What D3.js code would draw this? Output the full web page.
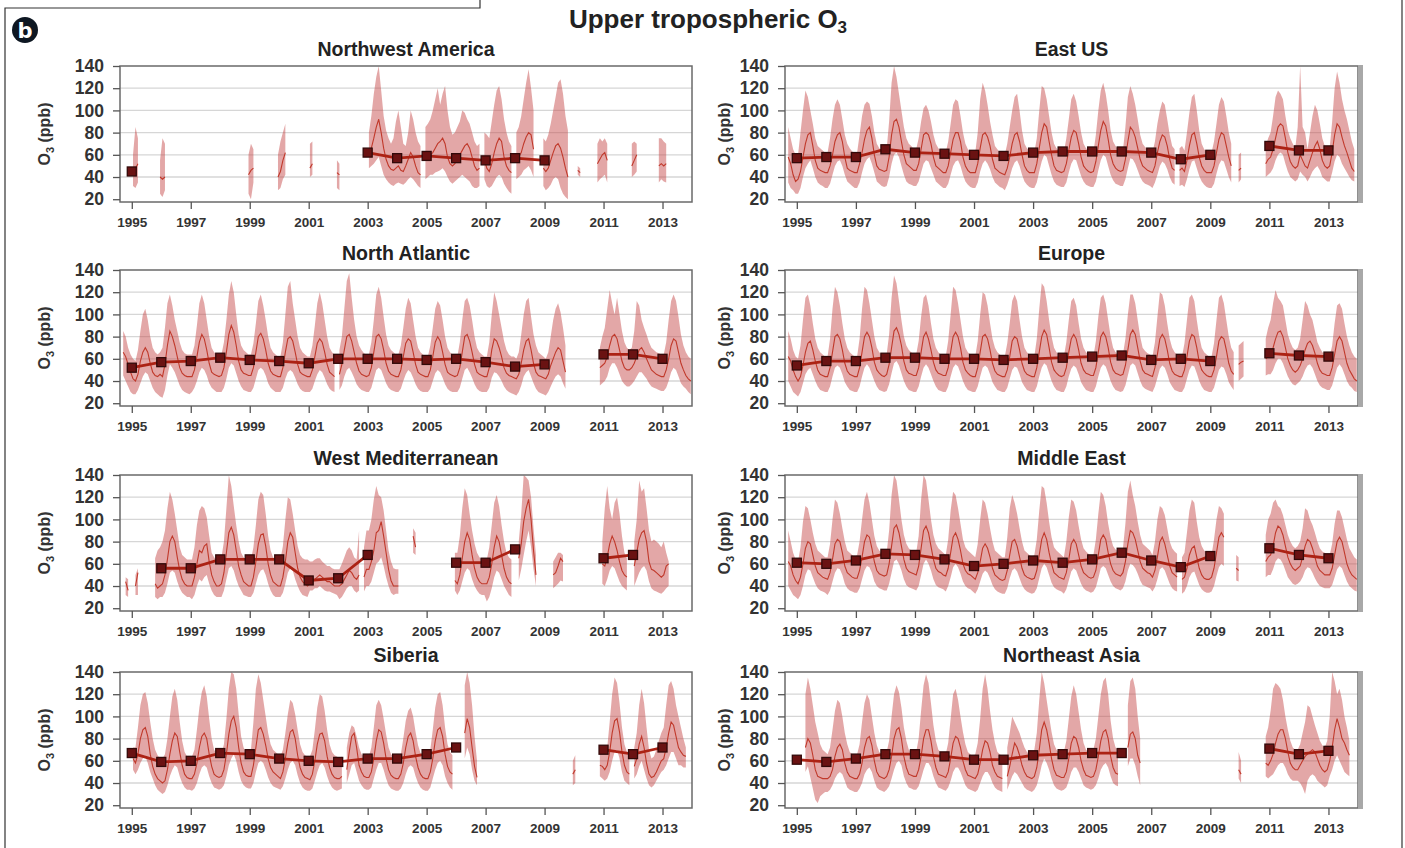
<!DOCTYPE html>
<html>
<head>
<meta charset="utf-8">
<title>Upper tropospheric O3</title>
<script src="https://cdn.jsdelivr.net/npm/d3@7"></script>
<style>
  body { margin: 0; background: #fff; }
  svg text { font-family: "Liberation Sans", Arial, sans-serif; }
</style>
</head>
<body>
<div id="wrapper"></div>
<script>
var _ = null;

// monthly series, one row per year, Jan 1994 .. Dec 2013
var firstYear = 1994;
var annualYears = [1995,1996,1997,1998,1999,2000,2001,2002,2003,2004,2005,2006,2007,2008,2009,2010,2011,2012,2013];
var tickYears = [1995,1997,1999,2001,2003,2005,2007,2009,2011,2013];
var yTicks = [20,40,60,80,100,120,140];

// ---- Northwest America
var nwMean = [
/*1994*/ _,_,_,_,_,_,_,_,_,_,_,_,
/*1995*/ 42,48,52,_,_,_,_,_,_,_,_,40,
/*1996*/ 38,40,_,_,_,_,_,_,_,_,_,_,
/*1997*/ _,_,_,_,_,_,_,_,_,_,_,_,
/*1998*/ _,_,_,_,_,_,_,_,_,_,_,42,
/*1999*/ 46,48,_,_,_,_,_,_,_,_,_,40,
/*2000*/ 45,55,62,_,_,_,_,_,_,_,_,_,
/*2001*/ 48,52,_,_,_,_,_,_,_,_,_,44,
/*2002*/ 42,_,_,_,_,_,_,_,_,_,_,_,
/*2003*/ 62,66,75,85,92,80,66,56,50,47,46,48,
/*2004*/ 50,46,45,50,56,62,58,50,44,42,_,55,
/*2005*/ 56,60,62,66,70,72,75,70,58,52,50,52,
/*2006*/ 56,60,64,68,70,66,58,50,46,48,_,56,
/*2007*/ 48,45,52,62,70,75,72,58,50,46,44,_,
/*2008*/ 55,58,62,70,76,80,78,65,_,_,_,48,
/*2009*/ 45,48,55,62,68,70,66,58,48,40,_,_,
/*2010*/ _,46,44,_,_,_,_,_,_,52,56,60,
/*2011*/ 62,55,_,_,_,_,_,_,_,_,_,50,
/*2012*/ 55,60,_,_,_,_,_,_,_,_,50,52,
/*2013*/ 50,52,_,_,_,_,_,_,_,_,_,_
];
var nwLo = [
/*1994*/ _,_,_,_,_,_,_,_,_,_,_,_,
/*1995*/ 32,30,35,_,_,_,_,_,_,_,_,25,
/*1996*/ 22,28,_,_,_,_,_,_,_,_,_,_,
/*1997*/ _,_,_,_,_,_,_,_,_,_,_,_,
/*1998*/ _,_,_,_,_,_,_,_,_,_,_,25,
/*1999*/ 20,35,_,_,_,_,_,_,_,_,_,28,
/*2000*/ 30,38,42,_,_,_,_,_,_,_,_,_,
/*2001*/ 40,42,_,_,_,_,_,_,_,_,_,30,
/*2002*/ 28,_,_,_,_,_,_,_,_,_,_,_,
/*2003*/ 48,50,52,55,58,50,42,38,35,33,32,34,
/*2004*/ 35,34,33,35,38,40,38,35,32,30,_,38,
/*2005*/ 40,42,42,44,45,46,48,45,40,36,34,36,
/*2006*/ 38,40,42,40,38,36,32,30,30,32,_,38,
/*2007*/ 32,30,32,36,40,42,40,34,30,27,25,_,
/*2008*/ 38,40,42,46,48,50,46,40,_,_,_,32,
/*2009*/ 28,30,33,38,40,38,30,25,22,20,_,_,
/*2010*/ _,42,40,_,_,_,_,_,_,35,38,40,
/*2011*/ 42,35,_,_,_,_,_,_,_,_,_,40,
/*2012*/ 42,45,_,_,_,_,_,_,_,_,35,38,
/*2013*/ 36,35,_,_,_,_,_,_,_,_,_,_
];
var nwHi = [
/*1994*/ _,_,_,_,_,_,_,_,_,_,_,_,
/*1995*/ 60,85,75,_,_,_,_,_,_,_,_,55,
/*1996*/ 75,70,_,_,_,_,_,_,_,_,_,_,
/*1997*/ _,_,_,_,_,_,_,_,_,_,_,_,
/*1998*/ _,_,_,_,_,_,_,_,_,_,_,60,
/*1999*/ 70,65,_,_,_,_,_,_,_,_,_,60,
/*2000*/ 72,80,88,_,_,_,_,_,_,_,_,_,
/*2001*/ 70,72,_,_,_,_,_,_,_,_,_,55,
/*2002*/ 52,_,_,_,_,_,_,_,_,_,_,_,
/*2003*/ 80,95,115,130,140,118,95,82,75,70,75,90,
/*2004*/ 100,85,70,68,80,100,92,80,72,68,_,85,
/*2005*/ 88,92,100,110,120,105,115,122,100,85,78,80,
/*2006*/ 85,90,100,98,92,88,80,72,68,70,_,80,
/*2007*/ 78,75,90,105,118,122,110,92,80,72,68,_,
/*2008*/ 80,85,95,110,125,137,120,100,_,_,_,75,
/*2009*/ 72,78,88,100,112,125,128,115,95,82,_,_,
/*2010*/ _,50,48,_,_,_,_,_,_,70,75,72,
/*2011*/ 75,70,_,_,_,_,_,_,_,_,_,70,
/*2012*/ 72,70,_,_,_,_,_,_,_,_,75,75,
/*2013*/ 72,70,_,_,_,_,_,_,_,_,_,_
];
var nwAnnual = [45,_,_,_,_,_,_,_,62,57,59,57,55,57,55,_,_,_,_];

// ---- East US
var euMean = [
/*1994*/ _,_,_,_,_,_,_,_,58,52,42,36,
/*1995*/ 38,45,58,70,78,80,68,55,48,46,45,44,
/*1996*/ 44,50,60,72,78,80,72,58,48,46,45,44,
/*1997*/ 44,52,62,74,82,85,75,60,50,47,46,45,
/*1998*/ 46,58,78,90,92,85,72,60,52,50,48,46,
/*1999*/ 46,52,65,78,80,78,70,58,50,48,46,44,
/*2000*/ 44,50,62,74,80,80,72,58,50,46,44,44,
/*2001*/ 44,52,66,78,80,76,68,56,48,46,44,43,
/*2002*/ 42,48,58,70,78,80,72,60,50,46,44,44,
/*2003*/ 44,52,66,80,88,85,72,60,50,46,45,44,
/*2004*/ 45,52,64,76,82,80,70,58,50,47,45,44,
/*2005*/ 45,54,68,82,90,86,74,60,52,48,46,45,
/*2006*/ 46,56,72,85,82,76,66,56,50,48,46,45,
/*2007*/ 44,50,62,72,78,76,68,56,48,46,_,46,
/*2008*/ 48,45,55,68,78,80,70,58,50,46,44,44,
/*2009*/ 44,50,62,74,80,78,68,58,50,_,_,46,
/*2010*/ 48,_,_,_,_,_,_,_,_,_,52,56,
/*2011*/ 58,65,75,85,88,86,75,62,54,50,48,50,
/*2012*/ 60,55,50,48,55,62,68,72,65,55,50,48,
/*2013*/ 50,62,78,88,85,76,68,62,55,48,45,_
];
var euLo = [
/*1994*/ _,_,_,_,_,_,_,_,35,30,28,25,
/*1995*/ 25,30,40,48,52,55,48,40,35,33,32,30,
/*1996*/ 30,34,42,50,54,55,50,42,36,34,32,30,
/*1997*/ 30,35,44,52,56,58,52,44,36,34,32,31,
/*1998*/ 32,40,52,60,62,58,50,42,36,34,33,32,
/*1999*/ 32,36,44,52,55,54,48,42,36,34,32,30,
/*2000*/ 30,34,42,50,54,55,50,42,36,33,31,30,
/*2001*/ 30,35,45,52,55,52,47,40,35,33,31,30,
/*2002*/ 28,33,40,48,53,55,50,42,36,33,31,30,
/*2003*/ 30,35,45,54,60,58,50,42,36,33,32,31,
/*2004*/ 31,35,44,52,56,55,48,41,36,33,32,31,
/*2005*/ 31,36,46,55,60,58,50,42,37,34,33,32,
/*2006*/ 32,38,48,57,56,52,46,40,36,34,33,32,
/*2007*/ 30,35,42,50,54,52,47,40,35,33,_,32,
/*2008*/ 33,31,38,47,54,55,48,41,36,33,31,30,
/*2009*/ 30,34,43,51,55,54,47,40,35,_,_,35,
/*2010*/ 38,_,_,_,_,_,_,_,_,_,40,42,
/*2011*/ 44,48,55,60,62,60,52,45,40,38,36,38,
/*2012*/ 45,42,40,36,40,45,48,50,46,40,38,36,
/*2013*/ 36,44,54,60,58,52,48,44,40,37,36,_
];
var euHi = [
/*1994*/ _,_,_,_,_,_,_,_,85,75,65,60,
/*1995*/ 60,80,100,118,112,100,88,75,68,66,64,62,
/*1996*/ 62,75,92,105,110,105,92,78,70,66,63,62,
/*1997*/ 62,78,95,105,108,106,95,80,70,66,64,62,
/*1998*/ 65,90,125,140,130,115,100,85,75,70,68,65,
/*1999*/ 65,75,90,102,105,100,90,78,70,66,64,62,
/*2000*/ 62,72,88,105,110,108,95,80,70,65,62,62,
/*2001*/ 62,80,110,125,118,105,90,78,68,65,62,60,
/*2002*/ 60,70,85,100,112,115,100,82,70,66,63,62,
/*2003*/ 62,75,100,122,120,110,95,80,70,66,64,62,
/*2004*/ 62,75,92,110,115,108,95,80,70,66,64,62,
/*2005*/ 62,78,100,118,125,115,100,82,72,68,65,63,
/*2006*/ 64,85,112,122,115,105,92,78,70,67,65,64,
/*2007*/ 62,72,88,100,108,105,92,78,68,65,_,66,
/*2008*/ 68,64,80,98,112,115,100,82,70,65,63,62,
/*2009*/ 62,72,88,105,112,108,95,80,70,_,_,60,
/*2010*/ 62,_,_,_,_,_,_,_,_,_,68,75,
/*2011*/ 80,95,112,118,115,110,95,82,75,70,66,85,
/*2012*/ 140,85,80,65,80,95,105,100,88,75,68,66,
/*2013*/ 66,90,120,135,125,110,100,92,82,72,65,_
];
var euAnnual = [57,58,58,65,62,61,60,59,62,63,63,63,62,56,60,_,68,64,64];

// ---- North Atlantic
var naMean = [
/*1994*/ _,_,_,_,_,_,_,_,66,62,55,48,
/*1995*/ 42,40,46,58,66,70,66,56,48,45,44,46,
/*1996*/ 44,55,72,85,80,72,62,52,47,45,44,44,
/*1997*/ 44,50,62,75,82,78,68,56,48,46,45,44,
/*1998*/ 45,52,66,82,90,84,72,58,50,47,46,45,
/*1999*/ 45,52,66,80,83,78,68,56,49,46,45,44,
/*2000*/ 44,52,66,78,80,76,66,55,48,46,45,44,
/*2001*/ 44,50,62,74,78,75,66,55,48,46,44,_,
/*2002*/ 46,55,68,80,82,76,66,56,49,46,45,44,
/*2003*/ 45,52,66,80,82,78,68,56,49,46,45,44,
/*2004*/ 44,50,62,74,78,76,66,55,48,46,45,44,
/*2005*/ 44,50,62,75,80,76,66,55,48,46,45,44,
/*2006*/ 45,52,66,80,82,76,66,55,48,46,45,44,
/*2007*/ 44,52,68,78,76,70,62,52,47,45,44,43,
/*2008*/ 42,46,56,68,76,78,68,56,48,45,44,43,
/*2009*/ 42,46,54,60,66,70,68,58,48,_,_,_,
/*2010*/ _,_,_,_,_,_,_,_,_,_,52,54,
/*2011*/ 56,62,72,80,82,78,68,58,52,50,50,52,
/*2012*/ 56,62,68,70,66,60,55,50,48,46,45,44,
/*2013*/ 44,50,60,72,78,76,66,56,50,45,42,40
];
var naLo = [
/*1994*/ _,_,_,_,_,_,_,_,45,40,35,30,
/*1995*/ 28,28,32,38,44,48,46,40,34,30,28,26,
/*1996*/ 25,32,45,55,52,48,42,36,32,30,29,28,
/*1997*/ 30,34,40,48,52,50,45,38,34,32,30,30,
/*1998*/ 30,34,42,52,56,54,47,40,35,32,31,30,
/*1999*/ 30,34,42,50,52,50,45,38,34,32,30,30,
/*2000*/ 30,34,42,48,50,48,43,37,33,31,30,30,
/*2001*/ 30,33,40,46,50,48,43,37,33,31,30,_,
/*2002*/ 32,36,44,50,52,48,43,37,34,32,31,30,
/*2003*/ 30,34,42,50,52,50,44,38,34,32,31,30,
/*2004*/ 30,33,40,46,50,48,43,37,33,31,30,30,
/*2005*/ 30,33,40,47,50,48,43,37,33,31,30,30,
/*2006*/ 30,34,42,50,52,48,43,37,33,31,30,30,
/*2007*/ 30,34,43,48,47,44,40,35,32,30,29,28,
/*2008*/ 27,30,36,44,48,50,44,38,33,30,29,28,
/*2009*/ 27,30,35,40,44,46,44,38,33,_,_,_,
/*2010*/ _,_,_,_,_,_,_,_,_,_,36,38,
/*2011*/ 40,44,52,56,56,52,46,40,37,35,35,37,
/*2012*/ 40,44,48,48,45,42,38,35,34,33,32,31,
/*2013*/ 31,34,40,48,52,50,44,38,35,33,30,28
];
var naHi = [
/*1994*/ _,_,_,_,_,_,_,_,85,80,70,64,
/*1995*/ 60,58,68,85,100,105,95,80,70,66,64,66,
/*1996*/ 70,88,110,118,108,95,85,75,68,65,64,64,
/*1997*/ 64,72,90,110,118,110,95,80,70,66,64,62,
/*1998*/ 64,75,95,118,130,120,100,82,72,68,66,64,
/*1999*/ 64,74,92,112,118,108,95,80,70,66,64,62,
/*2000*/ 62,75,100,125,130,110,95,80,70,66,64,62,
/*2001*/ 62,72,90,110,120,110,95,80,70,66,64,_,
/*2002*/ 68,80,105,130,137,115,95,80,72,68,65,64,
/*2003*/ 64,75,95,118,125,115,98,82,72,68,66,64,
/*2004*/ 64,72,88,105,115,110,95,80,70,66,64,62,
/*2005*/ 62,72,88,105,112,108,95,80,70,66,64,62,
/*2006*/ 62,75,95,112,115,108,95,80,70,66,64,62,
/*2007*/ 62,75,100,120,112,100,88,76,68,64,62,62,
/*2008*/ 60,66,82,100,112,115,98,82,72,66,64,62,
/*2009*/ 60,66,80,95,105,110,102,88,72,_,_,_,
/*2010*/ _,_,_,_,_,_,_,_,_,_,70,80,
/*2011*/ 88,105,122,110,100,115,100,85,75,70,68,70,
/*2012*/ 85,112,108,95,88,82,75,70,68,66,65,64,
/*2013*/ 64,75,95,112,118,112,98,82,72,66,62,60
];
var naAnnual = [52,57,58,61,59,58,56,60,60,60,59,60,57,53,55,_,64,64,60];

// ---- Europe
var eoMean = [
/*1994*/ _,_,_,_,_,_,_,_,62,58,50,44,
/*1995*/ 40,44,54,66,74,76,68,58,50,46,45,44,
/*1996*/ 44,52,66,80,82,78,68,56,49,46,45,44,
/*1997*/ 44,52,66,80,84,80,70,57,50,47,45,44,
/*1998*/ 46,55,70,85,88,82,72,58,50,47,46,45,
/*1999*/ 45,52,66,80,84,78,68,57,50,47,46,45,
/*2000*/ 45,52,66,80,84,80,70,57,50,47,45,44,
/*2001*/ 44,52,66,80,82,78,68,56,49,46,45,44,
/*2002*/ 44,50,62,76,80,78,68,56,49,46,45,44,
/*2003*/ 44,52,66,80,86,82,70,57,50,47,45,44,
/*2004*/ 45,52,66,78,82,78,68,56,50,47,46,45,
/*2005*/ 45,52,66,80,84,80,70,57,50,47,46,45,
/*2006*/ 46,54,68,82,86,82,70,58,50,47,46,45,
/*2007*/ 44,52,64,78,82,78,68,56,49,46,45,44,
/*2008*/ 44,50,62,76,82,80,70,57,50,47,45,44,
/*2009*/ 44,50,62,76,80,78,68,56,49,46,_,55,
/*2010*/ 57,58,_,_,_,_,_,_,_,_,60,62,
/*2011*/ 64,70,78,84,85,80,70,60,54,50,48,50,
/*2012*/ 54,60,68,74,76,72,65,56,50,47,46,45,
/*2013*/ 45,52,64,76,80,76,66,56,50,46,42,40
];
var eoLo = [
/*1994*/ _,_,_,_,_,_,_,_,40,35,30,28,
/*1995*/ 26,30,38,46,50,52,46,40,35,32,31,30,
/*1996*/ 30,35,44,52,54,52,46,39,35,32,31,30,
/*1997*/ 30,35,44,52,55,52,46,40,35,32,31,30,
/*1998*/ 31,37,47,56,58,54,47,40,35,32,31,30,
/*1999*/ 30,35,44,52,55,52,46,40,35,32,31,30,
/*2000*/ 30,35,44,52,55,53,47,40,35,32,31,30,
/*2001*/ 30,35,44,52,54,52,46,39,35,32,31,30,
/*2002*/ 30,34,42,50,53,52,46,39,35,32,31,30,
/*2003*/ 30,35,44,52,56,54,47,40,35,32,31,30,
/*2004*/ 30,35,44,51,54,52,46,39,35,32,31,30,
/*2005*/ 30,35,44,52,55,53,47,40,35,32,31,30,
/*2006*/ 31,36,45,54,56,54,47,40,35,33,32,31,
/*2007*/ 30,35,43,51,54,52,46,39,35,32,31,30,
/*2008*/ 30,34,42,50,54,53,47,40,35,32,31,30,
/*2009*/ 30,34,42,50,53,52,46,39,35,32,_,40,
/*2010*/ 42,44,_,_,_,_,_,_,_,_,45,46,
/*2011*/ 46,50,56,60,60,56,50,44,40,37,36,38,
/*2012*/ 40,44,50,54,55,52,46,40,36,34,33,32,
/*2013*/ 32,36,44,52,55,52,46,40,36,34,31,30
];
var eoHi = [
/*1994*/ _,_,_,_,_,_,_,_,85,78,68,62,
/*1995*/ 60,72,95,115,118,108,92,78,70,66,64,62,
/*1996*/ 62,78,105,125,120,108,92,78,70,66,64,62,
/*1997*/ 62,78,105,125,122,110,95,80,70,66,64,62,
/*1998*/ 64,82,115,135,128,112,95,80,72,68,66,64,
/*1999*/ 64,76,98,115,118,108,92,78,70,66,64,62,
/*2000*/ 62,76,100,125,122,110,95,80,70,66,64,62,
/*2001*/ 62,76,100,120,118,108,92,78,70,66,64,62,
/*2002*/ 62,74,92,112,118,112,95,80,70,66,64,62,
/*2003*/ 62,78,105,128,125,112,95,80,70,66,64,62,
/*2004*/ 62,75,95,112,115,108,92,78,70,66,64,62,
/*2005*/ 62,76,98,115,118,110,95,80,70,66,64,62,
/*2006*/ 64,78,100,118,118,110,95,80,70,67,65,64,
/*2007*/ 62,75,98,120,118,108,92,78,70,66,64,62,
/*2008*/ 62,74,95,115,118,112,95,80,70,66,64,62,
/*2009*/ 62,74,95,115,118,110,95,80,70,66,_,72,
/*2010*/ 74,76,_,_,_,_,_,_,_,_,78,88,
/*2011*/ 95,110,122,115,112,108,95,82,75,70,68,70,
/*2012*/ 78,95,112,108,100,95,85,75,70,66,64,62,
/*2013*/ 62,72,92,108,110,105,92,80,72,66,62,60
];
var eoAnnual = [54,58,58,61,61,60,60,59,60,61,62,63,59,60,58,_,65,63,62];

// ---- West Mediterranean
var wmMean = [
/*1994*/ _,_,_,_,_,_,_,_,_,44,36,_,
/*1995*/ _,40,52,_,_,_,_,_,_,42,38,40,
/*1996*/ 42,50,64,80,85,80,66,54,46,42,40,40,
/*1997*/ 40,48,60,72,70,76,78,62,50,44,40,40,
/*1998*/ 42,52,70,88,93,86,72,58,50,44,42,40,
/*1999*/ 40,48,62,78,86,87,76,60,50,44,42,40,
/*2000*/ 40,48,62,80,88,84,70,56,48,44,42,40,
/*2001*/ 42,44,46,48,50,48,46,44,44,42,40,40,
/*2002*/ 40,42,46,50,54,52,48,46,50,_,48,55,
/*2003*/ 55,62,72,88,90,98,85,70,55,45,40,40,
/*2004*/ 40,_,_,_,_,_,85,75,_,_,_,_,
/*2005*/ _,_,_,_,_,_,_,_,_,_,_,45,
/*2006*/ 42,50,65,80,88,82,68,56,48,44,42,42,
/*2007*/ 42,48,60,75,85,80,68,56,48,44,42,_,
/*2008*/ _,65,78,98,110,118,100,72,50,_,_,_,
/*2009*/ _,_,_,50,52,58,65,62,_,_,_,_,
/*2010*/ _,_,_,_,_,_,_,_,_,_,_,60,
/*2011*/ 58,66,78,85,80,72,62,54,50,48,_,_,
/*2012*/ 58,70,82,88,90,80,62,55,54,52,50,48,
/*2013*/ 50,58,60,_,_,_,_,_,_,_,_,_
];
var wmLo = [
/*1994*/ _,_,_,_,_,_,_,_,_,32,30,_,
/*1995*/ _,32,32,_,_,_,_,_,_,30,28,30,
/*1996*/ 30,34,42,52,54,52,44,38,34,32,30,30,
/*1997*/ 28,32,40,46,44,48,50,42,36,32,30,30,
/*1998*/ 30,36,46,56,58,54,46,40,36,32,31,30,
/*1999*/ 30,34,42,50,54,55,50,42,36,32,30,30,
/*2000*/ 30,34,42,52,56,54,46,40,35,32,31,30,
/*2001*/ 36,36,38,38,40,38,36,35,35,34,33,32,
/*2002*/ 28,30,34,38,40,40,36,34,36,_,35,40,
/*2003*/ 40,44,52,60,62,66,58,48,40,34,32,33,
/*2004*/ 33,_,_,_,_,_,70,68,_,_,_,_,
/*2005*/ _,_,_,_,_,_,_,_,_,_,_,36,
/*2006*/ 32,36,44,52,56,54,46,40,36,33,32,32,
/*2007*/ 26,30,38,48,54,52,46,40,36,32,30,_,
/*2008*/ _,45,55,68,80,90,75,55,40,_,_,_,
/*2009*/ _,_,_,38,40,42,45,44,_,_,_,_,
/*2010*/ _,_,_,_,_,_,_,_,_,_,_,42,
/*2011*/ 40,46,54,58,56,50,44,40,38,36,_,_,
/*2012*/ 40,46,52,56,58,54,44,38,36,35,34,33,
/*2013*/ 35,38,40,_,_,_,_,_,_,_,_,_
];
var wmHi = [
/*1994*/ _,_,_,_,_,_,_,_,_,48,46,_,
/*1995*/ _,50,56,_,_,_,_,_,_,65,72,75,
/*1996*/ 80,90,110,125,118,105,90,75,68,66,64,64,
/*1997*/ 64,75,95,108,112,110,102,85,70,66,64,64,
/*1998*/ 66,80,110,140,130,112,95,80,70,66,64,64,
/*1999*/ 64,75,95,118,125,122,105,85,72,66,64,64,
/*2000*/ 64,76,100,120,118,105,90,76,68,65,64,64,
/*2001*/ 62,62,64,65,65,62,60,58,58,56,55,55,
/*2002*/ 55,60,66,72,75,72,66,64,90,_,75,90,
/*2003*/ 90,100,118,130,122,120,108,90,72,62,56,55,
/*2004*/ 55,_,_,_,_,_,92,88,_,_,_,_,
/*2005*/ _,_,_,_,_,_,_,_,_,_,_,70,
/*2006*/ 70,85,110,128,122,105,90,78,70,66,64,64,
/*2007*/ 64,75,95,115,122,112,95,80,70,66,64,_,
/*2008*/ _,80,105,140,138,135,120,92,68,_,_,_,
/*2009*/ _,_,_,62,66,70,70,68,_,_,_,_,
/*2010*/ _,_,_,_,_,_,_,_,_,_,_,80,
/*2011*/ 110,130,110,100,115,120,105,85,70,65,_,_,
/*2012*/ 80,100,135,125,128,110,90,80,82,80,78,75,
/*2013*/ 80,70,62,_,_,_,_,_,_,_,_,_
];
var wmAnnual = [_,56,56,64,64,64,45,47,68,_,_,61,61,73,_,_,65,68,_];

// ---- Middle East
var meMean = [
/*1994*/ _,_,_,_,_,_,_,_,62,58,50,45,
/*1995*/ 42,48,60,74,80,78,68,58,52,50,48,47,
/*1996*/ 46,52,64,78,82,80,70,58,52,50,48,47,
/*1997*/ 47,54,66,80,86,84,74,62,54,51,50,49,
/*1998*/ 50,60,76,92,95,88,76,64,56,53,52,51,
/*1999*/ 50,58,74,90,94,88,76,64,56,53,52,50,
/*2000*/ 49,56,70,84,88,82,72,60,54,51,50,48,
/*2001*/ 46,52,62,74,78,74,66,56,50,48,46,45,
/*2002*/ 46,54,68,80,82,76,66,56,50,48,47,46,
/*2003*/ 47,54,68,82,88,82,70,60,52,50,48,47,
/*2004*/ 46,52,64,78,82,78,68,58,52,50,48,47,
/*2005*/ 48,54,68,82,86,82,70,60,54,51,50,49,
/*2006*/ 52,62,78,90,88,82,72,62,56,54,52,51,
/*2007*/ 48,54,66,80,84,78,68,58,52,50,48,_,
/*2008*/ 46,48,56,68,74,76,66,56,50,47,46,46,
/*2009*/ 48,56,70,84,88,84,_,_,_,_,56,54,
/*2010*/ _,_,_,_,_,_,_,_,_,_,62,66,
/*2011*/ 68,76,88,94,92,86,76,66,60,56,54,56,
/*2012*/ 58,66,76,82,80,74,66,58,54,52,50,50,
/*2013*/ 50,56,68,80,84,80,70,60,54,50,48,46
];
var meLo = [
/*1994*/ _,_,_,_,_,_,_,_,40,36,32,30,
/*1995*/ 28,32,40,50,55,54,48,42,38,36,35,34,
/*1996*/ 32,36,44,52,56,55,50,42,38,36,35,34,
/*1997*/ 34,38,46,54,58,57,52,44,40,38,37,36,
/*1998*/ 36,42,52,62,64,60,54,46,41,39,38,37,
/*1999*/ 36,40,50,60,64,60,54,46,41,39,38,37,
/*2000*/ 35,40,48,57,60,57,51,44,40,38,37,35,
/*2001*/ 33,37,44,51,54,52,47,41,37,35,34,33,
/*2002*/ 33,38,47,54,56,53,47,41,37,35,34,33,
/*2003*/ 34,38,47,56,60,57,50,43,39,37,36,35,
/*2004*/ 33,37,45,53,56,54,48,42,38,36,35,34,
/*2005*/ 35,39,47,56,58,56,50,44,40,38,37,36,
/*2006*/ 38,44,54,60,59,56,51,45,41,40,39,38,
/*2007*/ 35,39,46,55,57,54,48,42,38,36,35,_,
/*2008*/ 33,35,40,48,52,53,47,41,37,35,34,34,
/*2009*/ 35,40,49,57,60,58,_,_,_,_,45,44,
/*2010*/ _,_,_,_,_,_,_,_,_,_,48,50,
/*2011*/ 50,55,62,65,64,60,54,48,45,42,41,42,
/*2012*/ 44,48,54,57,56,52,47,43,40,39,38,38,
/*2013*/ 38,41,48,55,58,56,50,44,40,38,36,35
];
var meHi = [
/*1994*/ _,_,_,_,_,_,_,_,90,80,70,64,
/*1995*/ 62,75,98,112,110,100,88,78,72,70,68,66,
/*1996*/ 66,78,100,118,115,105,92,80,72,70,68,66,
/*1997*/ 68,80,100,118,125,115,100,85,76,72,70,68,
/*1998*/ 70,90,122,140,135,118,100,86,78,74,72,70,
/*1999*/ 70,85,118,140,135,118,100,86,78,74,72,70,
/*2000*/ 68,82,108,125,122,110,96,82,75,72,70,68,
/*2001*/ 66,78,100,118,115,105,92,80,72,70,68,66,
/*2002*/ 66,84,110,122,115,105,92,80,72,70,68,66,
/*2003*/ 68,82,108,130,128,115,98,84,75,72,70,68,
/*2004*/ 66,80,102,118,116,108,94,82,74,71,69,67,
/*2005*/ 68,82,105,125,122,112,96,84,76,73,71,70,
/*2006*/ 74,96,125,135,122,112,98,86,78,76,74,72,
/*2007*/ 68,80,100,112,110,104,92,80,74,71,69,_,
/*2008*/ 66,70,88,108,118,115,98,84,76,72,70,68,
/*2009*/ 68,82,100,112,110,105,_,_,_,_,68,66,
/*2010*/ _,_,_,_,_,_,_,_,_,_,86,100,
/*2011*/ 105,115,118,112,110,104,95,86,80,76,74,76,
/*2012*/ 80,92,110,108,100,95,88,80,74,71,70,68,
/*2013*/ 68,78,96,108,108,102,92,82,74,70,66,64
];
var meAnnual = [61,60,63,69,68,64,58,60,63,61,64,70,63,57,67,_,74,68,65];

// ---- Siberia
var siMean = [
/*1994*/ _,_,_,_,_,_,_,_,_,_,_,_,
/*1995*/ 62,58,66,80,88,90,82,66,55,48,44,42,
/*1996*/ 40,42,52,66,78,85,82,68,56,48,45,44,
/*1997*/ 44,48,58,72,82,85,80,66,55,48,46,45,
/*1998*/ 46,52,66,84,96,100,90,72,58,50,47,46,
/*1999*/ 46,56,72,88,90,84,74,62,54,50,48,46,
/*2000*/ 44,50,62,76,86,88,80,65,54,48,45,44,
/*2001*/ 43,48,60,75,84,85,78,64,54,48,45,44,
/*2002*/ 44,46,_,52,68,82,85,72,56,50,46,45,
/*2003*/ 45,50,62,78,88,86,76,62,52,47,45,44,
/*2004*/ 44,48,58,72,82,85,78,64,54,48,45,44,
/*2005*/ 44,50,62,78,88,90,82,66,55,50,48,_,
/*2006*/ _,_,_,85,98,90,72,55,45,_,_,_,
/*2007*/ _,_,_,_,_,_,_,_,_,_,_,_,
/*2008*/ _,_,_,_,_,_,_,_,_,_,_,_,
/*2009*/ _,_,_,_,_,_,_,_,_,_,_,48,
/*2010*/ 52,_,_,_,_,_,_,_,_,_,56,55,
/*2011*/ 52,56,68,85,96,98,86,68,56,50,48,_,
/*2012*/ 55,62,75,82,72,58,48,45,46,50,55,60,
/*2013*/ 62,72,85,95,92,82,72,68,65,64,_,_
];
var siLo = [
/*1994*/ _,_,_,_,_,_,_,_,_,_,_,_,
/*1995*/ 52,48,52,58,62,64,58,50,44,38,34,32,
/*1996*/ 30,32,38,46,52,56,54,46,40,36,34,34,
/*1997*/ 33,35,40,48,54,56,54,46,40,36,35,34,
/*1998*/ 35,38,46,56,62,66,60,50,42,38,36,35,
/*1999*/ 35,40,50,58,60,58,52,45,40,37,36,35,
/*2000*/ 34,37,44,52,58,60,56,47,40,36,34,33,
/*2001*/ 33,35,42,50,56,58,54,46,40,36,34,33,
/*2002*/ 34,35,_,40,48,56,58,50,42,38,35,34,
/*2003*/ 34,36,44,52,58,58,52,44,38,35,34,33,
/*2004*/ 33,35,40,48,54,56,54,46,40,36,34,33,
/*2005*/ 33,36,44,52,58,60,56,46,40,36,34,_,
/*2006*/ _,_,_,62,72,66,52,42,38,_,_,_,
/*2007*/ _,_,_,_,_,_,_,_,_,_,_,_,
/*2008*/ _,_,_,_,_,_,_,_,_,_,_,_,
/*2009*/ _,_,_,_,_,_,_,_,_,_,_,38,
/*2010*/ 40,_,_,_,_,_,_,_,_,_,46,44,
/*2011*/ 42,44,50,60,68,70,62,50,42,40,38,_,
/*2012*/ 44,48,55,60,52,44,38,36,38,42,46,50,
/*2013*/ 52,56,62,68,68,62,56,56,54,54,_,_
];
var siHi = [
/*1994*/ _,_,_,_,_,_,_,_,_,_,_,_,
/*1995*/ 72,72,90,110,120,122,112,95,80,70,65,62,
/*1996*/ 62,66,80,100,118,125,115,95,78,68,64,62,
/*1997*/ 64,70,88,108,122,128,118,98,80,70,66,64,
/*1998*/ 66,75,98,125,140,138,125,102,82,72,68,66,
/*1999*/ 70,95,125,138,130,115,100,85,75,70,68,66,
/*2000*/ 64,70,85,102,115,112,102,88,75,68,65,64,
/*2001*/ 64,70,88,108,120,118,105,88,75,68,65,64,
/*2002*/ 62,64,_,72,85,92,90,82,72,66,64,62,
/*2003*/ 64,72,90,110,115,110,98,84,72,66,64,63,
/*2004*/ 62,66,80,96,105,108,100,86,74,67,64,62,
/*2005*/ 62,70,88,108,120,122,110,90,75,68,65,_,
/*2006*/ _,_,_,128,140,130,110,82,60,_,_,_,
/*2007*/ _,_,_,_,_,_,_,_,_,_,_,_,
/*2008*/ _,_,_,_,_,_,_,_,_,_,_,_,
/*2009*/ _,_,_,_,_,_,_,_,_,_,_,60,
/*2010*/ 65,_,_,_,_,_,_,_,_,_,68,70,
/*2011*/ 66,72,95,120,135,130,112,90,75,68,62,_,
/*2012*/ 72,85,110,125,112,90,70,62,64,70,78,85,
/*2013*/ 90,110,128,132,125,110,100,90,80,72,_,_
];
var siAnnual = [67,59,60,67,66,62,60,59,62,62,66,72,_,_,_,_,70,66,72];

// ---- Northeast Asia
var asMean = [
/*1994*/ _,_,_,_,_,_,_,_,_,_,_,_,
/*1995*/ _,_,_,72,80,76,65,52,46,45,44,44,
/*1996*/ 44,46,52,64,72,75,70,58,50,46,45,44,
/*1997*/ 44,48,58,72,80,82,74,60,50,46,45,44,
/*1998*/ 46,52,64,80,88,90,80,64,54,48,47,46,
/*1999*/ 46,52,64,80,88,88,78,64,54,48,47,46,
/*2000*/ 45,50,62,76,82,80,72,60,52,47,46,45,
/*2001*/ 44,48,58,70,78,76,68,56,50,46,45,44,
/*2002*/ _,46,55,66,76,72,65,56,50,46,45,44,
/*2003*/ 46,54,70,88,95,88,76,62,52,47,46,45,
/*2004*/ 45,50,62,76,82,80,72,60,52,47,46,45,
/*2005*/ 46,52,64,78,86,88,80,64,54,49,48,_,
/*2006*/ _,_,72,84,86,80,65,58,_,_,_,_,
/*2007*/ _,_,_,_,_,_,_,_,_,_,_,_,
/*2008*/ _,_,_,_,_,_,_,_,_,_,_,_,
/*2009*/ _,_,_,_,_,_,_,_,_,_,_,52,
/*2010*/ 48,_,_,_,_,_,_,_,_,_,58,56,
/*2011*/ 60,66,76,84,88,88,80,68,58,54,52,52,
/*2012*/ 56,60,64,66,68,70,68,62,56,52,50,52,
/*2013*/ 60,72,88,98,90,80,76,70,65,_,_,_
];
var asLo = [
/*1994*/ _,_,_,_,_,_,_,_,_,_,_,_,
/*1995*/ _,_,_,50,55,45,35,25,22,28,30,32,
/*1996*/ 32,34,38,44,48,50,48,42,36,34,33,32,
/*1997*/ 32,35,40,48,52,54,50,42,36,34,33,32,
/*1998*/ 34,37,44,52,58,60,56,46,40,36,35,34,
/*1999*/ 34,37,44,52,58,58,54,46,40,36,35,34,
/*2000*/ 33,36,42,50,54,54,50,44,38,35,34,33,
/*2001*/ 32,34,40,46,50,50,46,40,36,34,33,32,
/*2002*/ _,34,40,46,50,48,44,40,36,34,33,32,
/*2003*/ 34,38,46,56,62,58,52,44,38,35,34,33,
/*2004*/ 34,36,42,50,54,54,50,44,38,36,35,34,
/*2005*/ 35,38,44,52,56,58,54,46,40,38,37,_,
/*2006*/ _,_,55,62,62,56,46,38,_,_,_,_,
/*2007*/ _,_,_,_,_,_,_,_,_,_,_,_,
/*2008*/ _,_,_,_,_,_,_,_,_,_,_,_,
/*2009*/ _,_,_,_,_,_,_,_,_,_,_,44,
/*2010*/ 40,_,_,_,_,_,_,_,_,_,46,44,
/*2011*/ 46,48,52,56,58,58,54,48,44,42,42,42,
/*2012*/ 40,36,30,42,46,48,46,42,40,38,36,38,
/*2013*/ 46,52,60,65,60,55,50,48,46,_,_,_
];
var asHi = [
/*1994*/ _,_,_,_,_,_,_,_,_,_,_,_,
/*1995*/ _,_,_,120,135,125,110,95,85,75,70,68,
/*1996*/ 66,72,88,105,115,112,100,85,75,68,66,64,
/*1997*/ 66,75,95,112,120,115,100,85,74,68,66,64,
/*1998*/ 68,78,100,120,128,122,108,90,78,70,68,66,
/*1999*/ 68,80,105,128,138,130,112,92,78,70,68,66,
/*2000*/ 66,76,98,120,125,115,100,86,75,68,66,64,
/*2001*/ 66,76,98,125,138,125,105,88,76,68,66,64,
/*2002*/ _,72,85,100,95,90,85,78,72,68,66,64,
/*2003*/ 70,85,115,140,130,115,100,86,75,70,68,66,
/*2004*/ 68,78,98,118,128,120,104,88,76,70,68,66,
/*2005*/ 70,80,100,120,132,135,120,96,80,72,70,_,
/*2006*/ _,_,110,132,135,125,100,80,_,_,_,_,
/*2007*/ _,_,_,_,_,_,_,_,_,_,_,_,
/*2008*/ _,_,_,_,_,_,_,_,_,_,_,_,
/*2009*/ _,_,_,_,_,_,_,_,_,_,_,68,
/*2010*/ 60,_,_,_,_,_,_,_,_,_,82,90,
/*2011*/ 105,125,130,128,125,115,100,88,78,72,70,70,
/*2012*/ 75,85,95,110,108,100,92,85,78,74,72,78,
/*2013*/ 100,140,132,120,125,115,100,90,78,_,_,_
];
var asAnnual = [61,59,62,66,66,64,61,61,65,66,67,67,_,_,_,_,71,66,69];

var panels = [
  { title: "Northwest America", lo: nwLo, mean: nwMean, hi: nwHi, annual: nwAnnual },
  { title: "East US", lo: euLo, mean: euMean, hi: euHi, annual: euAnnual },
  { title: "North Atlantic", lo: naLo, mean: naMean, hi: naHi, annual: naAnnual },
  { title: "Europe", lo: eoLo, mean: eoMean, hi: eoHi, annual: eoAnnual },
  { title: "West Mediterranean", lo: wmLo, mean: wmMean, hi: wmHi, annual: wmAnnual },
  { title: "Middle East", lo: meLo, mean: meMean, hi: meHi, annual: meAnnual },
  { title: "Siberia", lo: siLo, mean: siMean, hi: siHi, annual: siAnnual },
  { title: "Northeast Asia", lo: asLo, mean: asMean, hi: asHi, annual: asAnnual }
];

// layout
var colX = [120, 785];
var colW = [572, 573];
var yLabelX = [44, 724];
var rowTop = [66, 270, 475, 672];
var plotH = 136;

var bandColor = "#c44848";
var meanColor = "#c0392b";
var annualColor = "#ac2214";

var svg = d3.select("#wrapper").append("svg")
  .attr("width", 1405)
  .attr("height", 848);

// frame lines around the figure
svg.append("path")
  .attr("d", "M480,0V8H5V848")
  .attr("fill", "none")
  .attr("stroke", "#333")
  .attr("stroke-width", 1.2);
svg.append("line")
  .attr("x1", 1402).attr("x2", 1402)
  .attr("y1", 0).attr("y2", 848)
  .attr("stroke", "#333")
  .attr("stroke-width", 1.2);

// panel letter
svg.append("circle")
  .attr("cx", 25).attr("cy", 30).attr("r", 13)
  .attr("fill", "#0e1722");
svg.append("text")
  .attr("x", 25).attr("y", 38)
  .attr("text-anchor", "middle")
  .attr("fill", "#fff")
  .style("font-family", "'DejaVu Sans', sans-serif")
  .style("font-weight", "bold")
  .style("font-size", "21px")
  .text("b");

// main title
var title = svg.append("text")
  .attr("x", 708).attr("y", 28)
  .attr("text-anchor", "middle")
  .attr("fill", "#222")
  .style("font-weight", "bold")
  .style("font-size", "26px");
title.append("tspan").text("Upper tropospheric O");
title.append("tspan").attr("dy", 5).style("font-size", "17px").text("3");

function monthlyRows(p) {
  var rows = [];
  for (var i = 0; i < p.mean.length; i++) {
    rows.push({ t: firstYear + (i + 0.5) / 12, lo: p.lo[i], mean: p.mean[i], hi: p.hi[i] });
  }
  return rows;
}

function drawPanel(p, idx) {
  var col = idx % 2, row = Math.floor(idx / 2);
  var w = colW[col];
  var g = svg.append("g")
    .attr("transform", "translate(" + colX[col] + "," + rowTop[row] + ")");

  var xScale = d3.scaleLinear().domain([1994.6, 2014.0]).range([0, w]);
  var yScale = d3.scaleLinear().domain([17.5, 140]).range([plotH, 0]);

  // grid
  g.selectAll("line.grid")
    .data(yTicks.slice(1, -1))
    .enter().append("line")
    .attr("class", "grid")
    .attr("x1", 0).attr("x2", w)
    .attr("y1", function(d) { return yScale(d); })
    .attr("y2", function(d) { return yScale(d); })
    .attr("stroke", "#d6d6d6")
    .attr("stroke-width", 1.3);

  var clipId = "clip" + idx;
  g.append("clipPath").attr("id", clipId)
    .append("rect").attr("width", w).attr("height", plotH);

  var rows = monthlyRows(p);
  var plot = g.append("g").attr("clip-path", "url(#" + clipId + ")");

  var band = d3.area()
    .defined(function(d) { return d.lo != null && d.hi != null; })
    .x(function(d) { return xScale(d.t); })
    .y0(function(d) { return yScale(d.lo); })
    .y1(function(d) { return yScale(d.hi); });
  plot.append("path")
    .attr("d", band(rows))
    .attr("fill", bandColor)
    .attr("fill-opacity", 0.48);

  var meanLine = d3.line()
    .defined(function(d) { return d.mean != null; })
    .x(function(d) { return xScale(d.t); })
    .y(function(d) { return yScale(d.mean); });
  plot.append("path")
    .attr("d", meanLine(rows))
    .attr("fill", "none")
    .attr("stroke", meanColor)
    .attr("stroke-width", 1.1);

  // annual means
  var ann = annualYears.map(function(y, i) { return { year: y, v: p.annual[i] }; });
  var annLine = d3.line()
    .defined(function(d) { return d.v != null; })
    .x(function(d) { return xScale(d.year); })
    .y(function(d) { return yScale(d.v); });
  plot.append("path")
    .attr("d", annLine(ann))
    .attr("fill", "none")
    .attr("stroke", annualColor)
    .attr("stroke-width", 2.8);
  plot.selectAll("rect.mk")
    .data(ann.filter(function(d) { return d.v != null; }))
    .enter().append("rect")
    .attr("class", "mk")
    .attr("x", function(d) { return xScale(d.year) - 4.5; })
    .attr("y", function(d) { return yScale(d.v) - 4.5; })
    .attr("width", 9).attr("height", 9)
    .attr("fill", "#6a1212")
    .attr("stroke", "#320909")
    .attr("stroke-width", 1.3);

  // frame
  g.append("rect")
    .attr("width", w).attr("height", plotH)
    .attr("fill", "none")
    .attr("stroke", "#6a6a6a")
    .attr("stroke-width", 1.5);
  if (col == 1) {
    g.append("rect")
      .attr("x", w).attr("y", -1)
      .attr("width", 5).attr("height", plotH + 2)
      .attr("fill", "#a8a8a8");
  }

  // axes
  var yAxis = d3.axisLeft(yScale).tickValues(yTicks).tickSize(7).tickPadding(9);
  var ya = g.append("g").call(yAxis);
  ya.select(".domain").remove();
  ya.selectAll("line").attr("stroke", "#555").attr("stroke-width", 1.3);
  ya.selectAll("text")
    .attr("fill", "#333")
    .style("font-size", "17.5px")
    .style("font-weight", "bold")
    .style("font-family", "'Liberation Sans', Arial, sans-serif");

  var xAxis = d3.axisBottom(xScale).tickValues(tickYears).tickFormat(d3.format("d")).tickSize(7).tickPadding(8);
  var xa = g.append("g").attr("transform", "translate(0," + plotH + ")").call(xAxis);
  xa.select(".domain").remove();
  xa.selectAll("line").attr("stroke", "#555").attr("stroke-width", 1.3);
  xa.selectAll("text")
    .attr("fill", "#333")
    .style("font-size", "13.5px")
    .style("font-weight", "bold")
    .style("font-family", "'Liberation Sans', Arial, sans-serif");

  // panel title
  svg.append("text")
    .attr("x", colX[col] + w / 2)
    .attr("y", rowTop[row] - 10)
    .attr("text-anchor", "middle")
    .attr("fill", "#222")
    .style("font-weight", "bold")
    .style("font-size", "19.5px")
    .text(p.title);

  // y label
  var yl = svg.append("text")
    .attr("transform", "translate(" + (yLabelX[col] + 6) + "," + (rowTop[row] + plotH / 2) + ") rotate(-90)")
    .attr("text-anchor", "middle")
    .attr("fill", "#333")
    .style("font-weight", "bold")
    .style("font-size", "16px");
  yl.append("tspan").text("O");
  yl.append("tspan").attr("dy", 4).style("font-size", "11px").text("3");
  yl.append("tspan").attr("dy", -4).text(" (ppb)");
}

panels.forEach(function(p, i) { drawPanel(p, i); });
</script>
</body>
</html>
